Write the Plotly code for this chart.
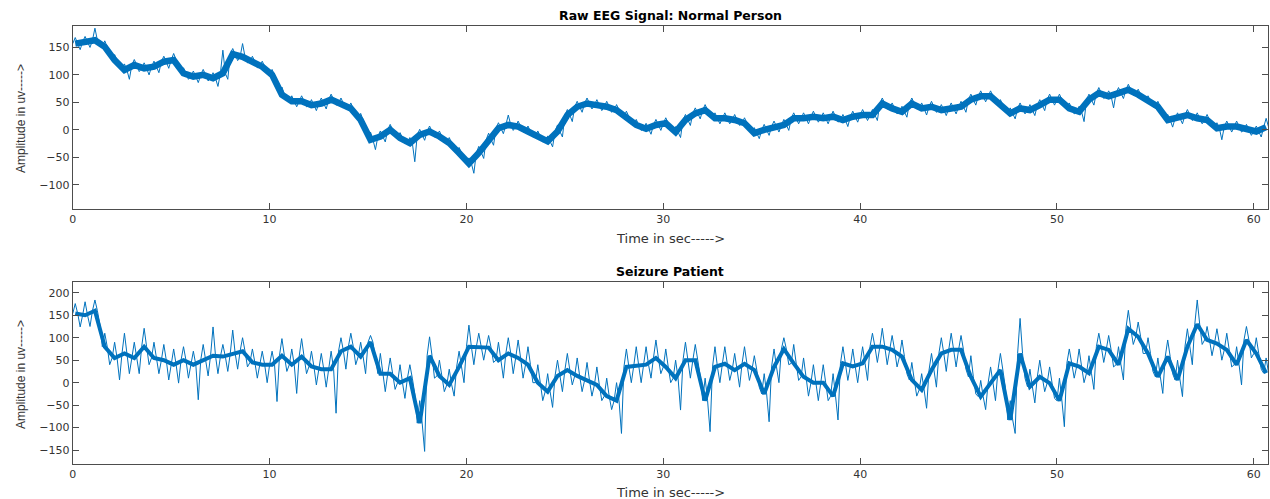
import plotly.graph_objects as go

BIN = 0.5  # seconds per reading bin

# ---- Normal person: per-bin centre / upper / lower readings (t = 0, 0.5, ... 60.5 s)
TOP_MID = [157,160,163,151,127,109,118,112,115,124,
           127,103,97,100,94,103,138,133,124,115,
           100,64,52,52,45,48,55,48,39,18,
           -18,-12,0,-15,-24,-9,-3,-12,-24,-42,
           -61,-42,-18,3,9,6,-3,-12,-21,-3,
           27,42,48,45,42,36,24,9,2,9,
           12,-4,18,30,36,21,21,18,12,-6,
           0,6,9,21,21,24,21,24,18,24,
           27,27,48,39,33,48,39,42,36,39,
           42,55,61,61,45,30,39,36,45,55,
           55,39,33,55,67,61,67,73,64,52,
           42,18,21,27,21,18,3,6,6,0,
           -3,5]
TOP_HI = [168,170,185,162,137,120,128,122,125,134,
          139,113,107,110,104,145,148,157,134,125,
          110,78,62,62,55,58,65,58,49,30,
          -4,-2,10,-5,-14,1,7,-2,-14,-32,
          -51,-30,-6,13,27,16,7,-2,-11,9,
          37,52,58,55,52,46,34,19,12,19,
          22,6,28,40,46,31,31,28,22,4,
          10,16,19,31,31,34,31,34,28,34,
          37,37,58,49,43,58,49,52,46,49,
          52,65,71,71,55,40,49,46,55,65,
          65,49,43,65,77,71,77,83,74,62,
          52,28,31,37,31,28,13,16,16,10,
          7,21]
TOP_LO = [146,150,152,140,115,92,106,100,104,112,
          116,92,86,89,79,92,126,122,113,104,
          88,54,42,42,35,38,45,38,28,6,
          -36,-22,-10,-25,-58,-19,-13,-22,-34,-52,
          -79,-52,-28,-7,-1,-4,-13,-22,-31,-13,
          15,32,38,35,32,26,14,-1,-8,-1,
          2,-14,8,20,26,11,11,8,2,-16,
          -10,-4,-1,11,11,14,11,14,6,14,
          17,17,38,29,23,38,27,32,26,29,
          32,45,51,51,35,20,29,26,35,45,
          45,29,15,45,57,40,57,63,54,42,
          32,5,11,17,11,8,-18,-4,-4,-10,
          -13,-15]

# ---- Seizure patient
SEZ_MID = [154,150,160,80,55,65,55,80,55,50,
           40,50,40,50,60,58,65,70,45,40,
           40,60,40,58,36,30,30,70,80,58,
           90,20,20,0,10,-90,60,15,-5,35,
           80,80,78,50,65,55,40,0,-20,15,
           28,15,5,-5,-30,-40,35,38,40,55,
           35,10,50,50,-40,35,42,28,42,28,
           -25,35,75,43,13,0,0,-30,43,36,
           43,80,80,73,58,6,-16,28,65,73,
           73,13,-31,-1,28,-83,65,-9,13,-1,
           -40,43,36,21,80,73,40,120,102,65,
           13,58,6,80,130,95,87,73,40,95,
           65,21]
SEZ_HI = [176,180,184,110,90,110,90,121,90,85,
          75,80,70,85,124,85,117,100,75,70,
          70,98,75,98,70,65,70,100,110,90,
          105,65,55,40,40,-40,102,50,30,70,
          128,110,105,90,100,95,80,40,20,50,
          65,55,45,35,10,0,75,80,80,95,
          75,50,90,85,10,80,80,65,80,60,
          20,75,100,85,55,40,40,20,80,75,
          80,110,121,105,95,45,20,65,100,110,
          105,60,5,35,65,-40,143,30,50,35,
          10,75,75,60,110,105,80,161,135,100,
          55,95,50,120,184,125,120,110,80,125,
          100,55]
SEZ_LO = [124,125,130,40,6,20,20,40,20,6,
          -1,10,-38,15,20,25,30,35,10,0,
          -42,25,-24,20,-5,-10,-68,30,40,20,
          55,-20,-15,-35,-25,-153,10,-20,-30,0,
          40,50,45,10,20,10,0,-40,-55,-20,
          -5,-20,-30,-40,-60,-113,0,0,10,20,
          0,-61,10,15,-109,0,5,-10,5,-10,
          -87,0,40,5,-30,-40,-40,-83,5,0,
          5,45,40,35,20,-30,-57,-10,25,35,
          30,-25,-60,-40,-10,-113,10,-45,-20,-35,
          -98,10,0,-15,45,35,6,85,65,25,
          -24,20,-31,40,85,60,50,35,-5,55,
          30,-9]

X_TICKS = [0, 10, 20, 30, 40, 50, 60]
TOP_Y_TICKS = [-100, -50, 0, 50, 100, 150]
SEZ_Y_TICKS = [-150, -100, -50, 0, 50, 100, 150, 200]
X_RANGE = [0, 60.72]
TOP_Y_RANGE = [-144, 189]
SEZ_Y_RANGE = [-181, 224]

TITLE_TOP = "Raw EEG Signal: Normal Person"
TITLE_SEZ = "Seizure Patient"
XLABEL = "Time in sec----->"
YLABEL = "Amplitude in uv----->"


def spike_points(mid, hi, lo):
    xs, ys = [], []
    for i, (m, h, l) in enumerate(zip(mid, hi, lo)):
        t = i * BIN
        xs += [t, t + BIN * 0.25, t + BIN * 0.5, t + BIN * 0.75]
        ys += [m, h, m, l]
    return xs, ys


def core_points(mid):
    xs = [i * BIN + BIN * 0.25 for i in range(len(mid))]
    return xs, list(mid)


BLUE = "#0072BD"
AX = "#4d4d4d"
W, H = 1270, 499

fig = go.Figure()
for (mid, hi, lo, xa, ya, core_w) in [
        (TOP_MID, TOP_HI, TOP_LO, "x", "y", 6.5),
        (SEZ_MID, SEZ_HI, SEZ_LO, "x2", "y2", 4)]:
    cx_, cy_ = core_points(mid)
    fig.add_trace(go.Scatter(x=cx_, y=cy_, mode="lines",
                             line=dict(color=BLUE, width=core_w),
                             xaxis=xa, yaxis=ya, showlegend=False))
    sx, sy = spike_points(mid, hi, lo)
    fig.add_trace(go.Scatter(x=sx, y=sy, mode="lines",
                             line=dict(color=BLUE, width=1),
                             xaxis=xa, yaxis=ya, showlegend=False))


def py(px):
    return 1 - px / H


xdom = [69 / W, 1268 / W]
tick_font = dict(family="DejaVu Sans", size=11, color="#333333")
common_x = dict(range=X_RANGE, tickvals=X_TICKS, ticks="inside", ticklen=6, tickcolor=AX,
                showline=True, linecolor=AX, linewidth=1, mirror="ticks", showgrid=False,
                zeroline=False, tickfont=tick_font, domain=xdom)
common_y = dict(ticks="inside", ticklen=6, tickcolor=AX, showline=True, linecolor=AX,
                linewidth=1, mirror="ticks", showgrid=False, zeroline=False, tickfont=tick_font)

fig.update_layout(
    width=W, height=H, margin=dict(l=0, r=0, t=0, b=0),
    paper_bgcolor="white", plot_bgcolor="white",
    xaxis=dict(anchor="y", **common_x),
    yaxis=dict(anchor="x", range=TOP_Y_RANGE, tickvals=TOP_Y_TICKS,
               domain=[py(209), py(26)], **common_y),
    xaxis2=dict(anchor="y2", **common_x),
    yaxis2=dict(anchor="x2", range=SEZ_Y_RANGE, tickvals=SEZ_Y_TICKS,
                domain=[py(464), py(282)], **common_y),
)

cx = (xdom[0] + xdom[1]) / 2
ann = [
    dict(text="<b>%s</b>" % TITLE_TOP, x=cx, y=py(15), font=dict(family="DejaVu Sans", size=12.5, color="black")),
    dict(text="<b>%s</b>" % TITLE_SEZ, x=cx, y=py(271), font=dict(family="DejaVu Sans", size=12.5, color="black")),
    dict(text=XLABEL, x=cx, y=py(238), font=dict(family="DejaVu Sans", size=13, color="#333333")),
    dict(text=XLABEL, x=cx, y=py(492), font=dict(family="DejaVu Sans", size=13, color="#333333")),
    dict(text=YLABEL, x=17 / W, y=py(118), textangle=-90, font=dict(family="Liberation Sans", size=12, color="#333333")),
    dict(text=YLABEL, x=17 / W, y=py(374), textangle=-90, font=dict(family="Liberation Sans", size=12, color="#333333")),
]
for a in ann:
    a.update(xref="paper", yref="paper", showarrow=False, xanchor="center", yanchor="middle")
fig.update_layout(annotations=ann)

fig.write_html("out.html")
